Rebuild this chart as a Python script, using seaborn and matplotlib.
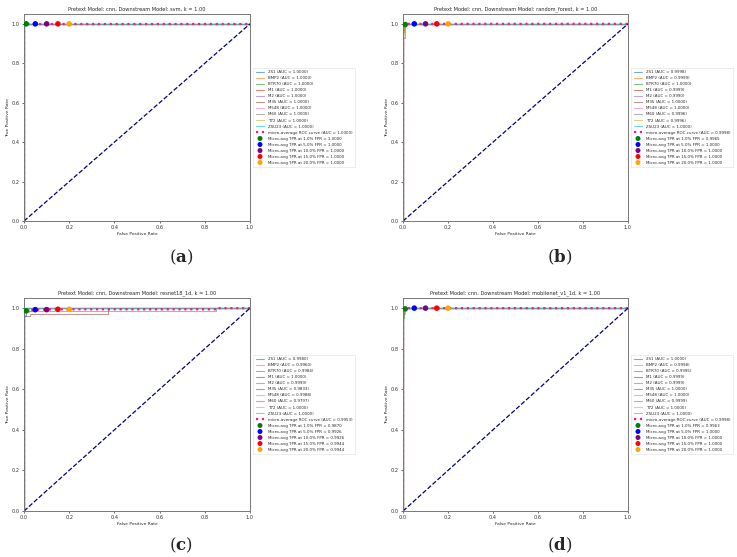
import matplotlib
matplotlib.use('Agg')
import matplotlib.pyplot as plt
import seaborn as sns
import numpy as np

sns.set_style('ticks')
plt.rcParams['font.family'] = ['DejaVu Sans']
plt.rcParams['mathtext.fontset'] = 'dejavuserif'

classes = ['2S1', 'BMP2', 'BTR70', 'M1', 'M2', 'M35', 'M548', 'M60', 'T72', 'ZSU23']
class_colors = sns.color_palette('tab10', 10)
fpr_levels = [0.01, 0.05, 0.10, 0.15, 0.20]
marker_colors = ['green', 'blue', 'purple', 'red', 'orange']
models = ['svm', 'random_forest', 'resnet18_1d', 'mobilenet_v1_1d']
panel_tags = ['a', 'b', 'c', 'd']

auc_a = [1.0000, 1.0000, 1.0000, 1.0000, 1.0000, 1.0000, 1.0000, 1.0000, 1.0000, 1.0000]
auc_b = [0.9998, 0.9999, 1.0000, 0.9999, 0.9990, 1.0000, 1.0000, 0.9996, 0.9996, 1.0000]
auc_c = [0.9980, 0.9960, 0.9984, 1.0000, 0.9999, 0.9833, 0.9988, 0.9797, 1.0000, 1.0000]
auc_d = [1.0000, 0.9998, 0.9995, 0.9999, 0.9999, 1.0000, 1.0000, 0.9999, 1.0000, 1.0000]
micro_auc = [1.0000, 0.9998, 0.9953, 0.9998]

tpr_a = [1.0000, 1.0000, 1.0000, 1.0000, 1.0000]
tpr_b = [0.9965, 1.0000, 1.0000, 1.0000, 1.0000]
tpr_c = [0.9870, 0.9926, 0.9926, 0.9944, 0.9944]
tpr_d = [0.9963, 1.0000, 1.0000, 1.0000, 1.0000]

# ROC points (fpr, tpr); unlisted classes are perfect
roc_perfect = ([0, 0, 1], [0, 1, 1])
roc_b = {
    '2S1': ([0, 0, 0.005, 0.005, 1], [0, 0.97, 0.97, 1, 1]),
    'M2': ([0, 0, 0.01, 0.01, 1], [0, 0.93, 0.93, 1, 1]),
    'M60': ([0, 0, 0.006, 0.006, 1], [0, 0.96, 0.96, 1, 1]),
    'T72': ([0, 0, 0.004, 0.004, 1], [0, 0.95, 0.95, 1, 1]),
}
roc_c = {
    '2S1': ([0, 0, 0.01, 0.01, 1], [0, 0.96, 0.96, 1, 1]),
    'BMP2': ([0, 0, 0.02, 0.02, 1], [0, 0.98, 0.98, 1, 1]),
    'BTR70': ([0, 0, 0.008, 0.008, 1], [0, 0.985, 0.985, 1, 1]),
    'M2': ([0, 0, 0.005, 0.005, 1], [0, 0.99, 0.99, 1, 1]),
    'M35': ([0, 0, 0.025, 0.025, 0.37, 0.37, 1], [0, 0.96, 0.96, 0.972, 0.972, 1, 1]),
    'M548': ([0, 0, 0.05, 0.05, 1], [0, 0.985, 0.985, 1, 1]),
    'M60': ([0, 0, 0.85, 0.85, 1], [0, 0.985, 0.985, 1, 1]),
}
roc_d = {
    'BMP2': ([0, 0, 0.008, 0.008, 1], [0, 0.97, 0.97, 1, 1]),
    'BTR70': ([0, 0, 0.006, 0.006, 1], [0, 0.95, 0.95, 1, 1]),
    'M60': ([0, 0, 0.004, 0.004, 1], [0, 0.97, 0.97, 1, 1]),
}
micro_a = ([0, 0, 1], [0, 1, 1])
micro_b = ([0, 0, 0.01, 0.02, 1], [0, 0.99, 0.9965, 1, 1])
micro_c = ([0, 0, 0.01, 0.05, 0.15, 0.85, 0.85, 1], [0, 0.975, 0.987, 0.9926, 0.9944, 0.9944, 1, 1])
micro_d = ([0, 0, 0.01, 0.02, 1], [0, 0.99, 0.9963, 1, 1])

aucs = [auc_a, auc_b, auc_c, auc_d]
tprs = [tpr_a, tpr_b, tpr_c, tpr_d]
rocs = [{}, roc_b, roc_c, roc_d]
micros = [micro_a, micro_b, micro_c, micro_d]

fig = plt.figure(figsize=(7.37, 5.57), dpi=100)
W, H = 737, 557
# axes boxes in pixels: left, top, right, bottom
boxes = [(24, 14, 250, 221), (403, 14, 628, 221), (24, 298, 250, 511), (403, 298, 628, 511)]
tag_pos = [(181, 257), (560, 257), (181, 545), (560, 545)]

for i in range(4):
    l, t, r, b = boxes[i]
    ax = fig.add_axes([l / W, 1 - b / H, (r - l) / W, (b - t) / H])
    for j, c in enumerate(classes):
        fx, ty = rocs[i].get(c, roc_perfect)
        sns.lineplot(x=fx, y=ty, sort=False, estimator=None, ax=ax, color=class_colors[j],
                     lw=0.8, alpha=0.6, label=f'{c} (AUC = {aucs[i][j]:.4f})')
    mx, my = micros[i]
    sns.lineplot(x=mx, y=my, sort=False, estimator=None, ax=ax, color='deeppink', lw=1.6,
                 linestyle=':', label=f'micro-average ROC curve (AUC = {micro_auc[i]:.4f})')
    sns.lineplot(x=[0, 1], y=[0, 1], ax=ax, color='navy', lw=0.9, linestyle='--')
    for k, f in enumerate(fpr_levels):
        sns.scatterplot(x=[f], y=[tprs[i][k]], ax=ax, color=marker_colors[k], s=16,
                        edgecolor='none', zorder=5,
                        label=f'Micro-avg TPR at {f * 100:.1f}% FPR = {tprs[i][k]:.4f}')
    ax.set_xlim(0, 1)
    ax.set_ylim(0, 1.05)
    ax.set_xticks(np.arange(0, 1.01, 0.2))
    ax.set_yticks(np.arange(0, 1.01, 0.2))
    ax.tick_params(labelsize=3.6, length=1.5, width=0.5, pad=1.5, colors='#333333')
    for s in ax.spines.values():
        s.set_color('#777777')
        s.set_linewidth(0.7)
    ax.set_xlabel('False Positive Rate', fontsize=3.2, labelpad=1.5)
    ax.set_ylabel('True Positive Rate', fontsize=3.2, labelpad=1.5)
    ax.set_title(f'Pretext Model: cnn, Downstream Model: {models[i]}, k = 1.00', fontsize=3.6, pad=2.5)
    leg = ax.legend(loc='center left', bbox_to_anchor=(1.005, 0.5), fontsize=2.9,
                    labelspacing=0.5, handlelength=2.2, borderpad=0.6, frameon=True,
                    fancybox=False, edgecolor='#dddddd', markerscale=0.9)
    leg.get_frame().set_linewidth(0.5)
    tx, ty_ = tag_pos[i]
    fig.text(tx / W, 1 - ty_ / H, '(' + r'$\mathbf{' + panel_tags[i] + '}$' + ')',
             fontsize=12, family='DejaVu Serif', ha='center', va='center')

fig.savefig('out.png', dpi=100)
